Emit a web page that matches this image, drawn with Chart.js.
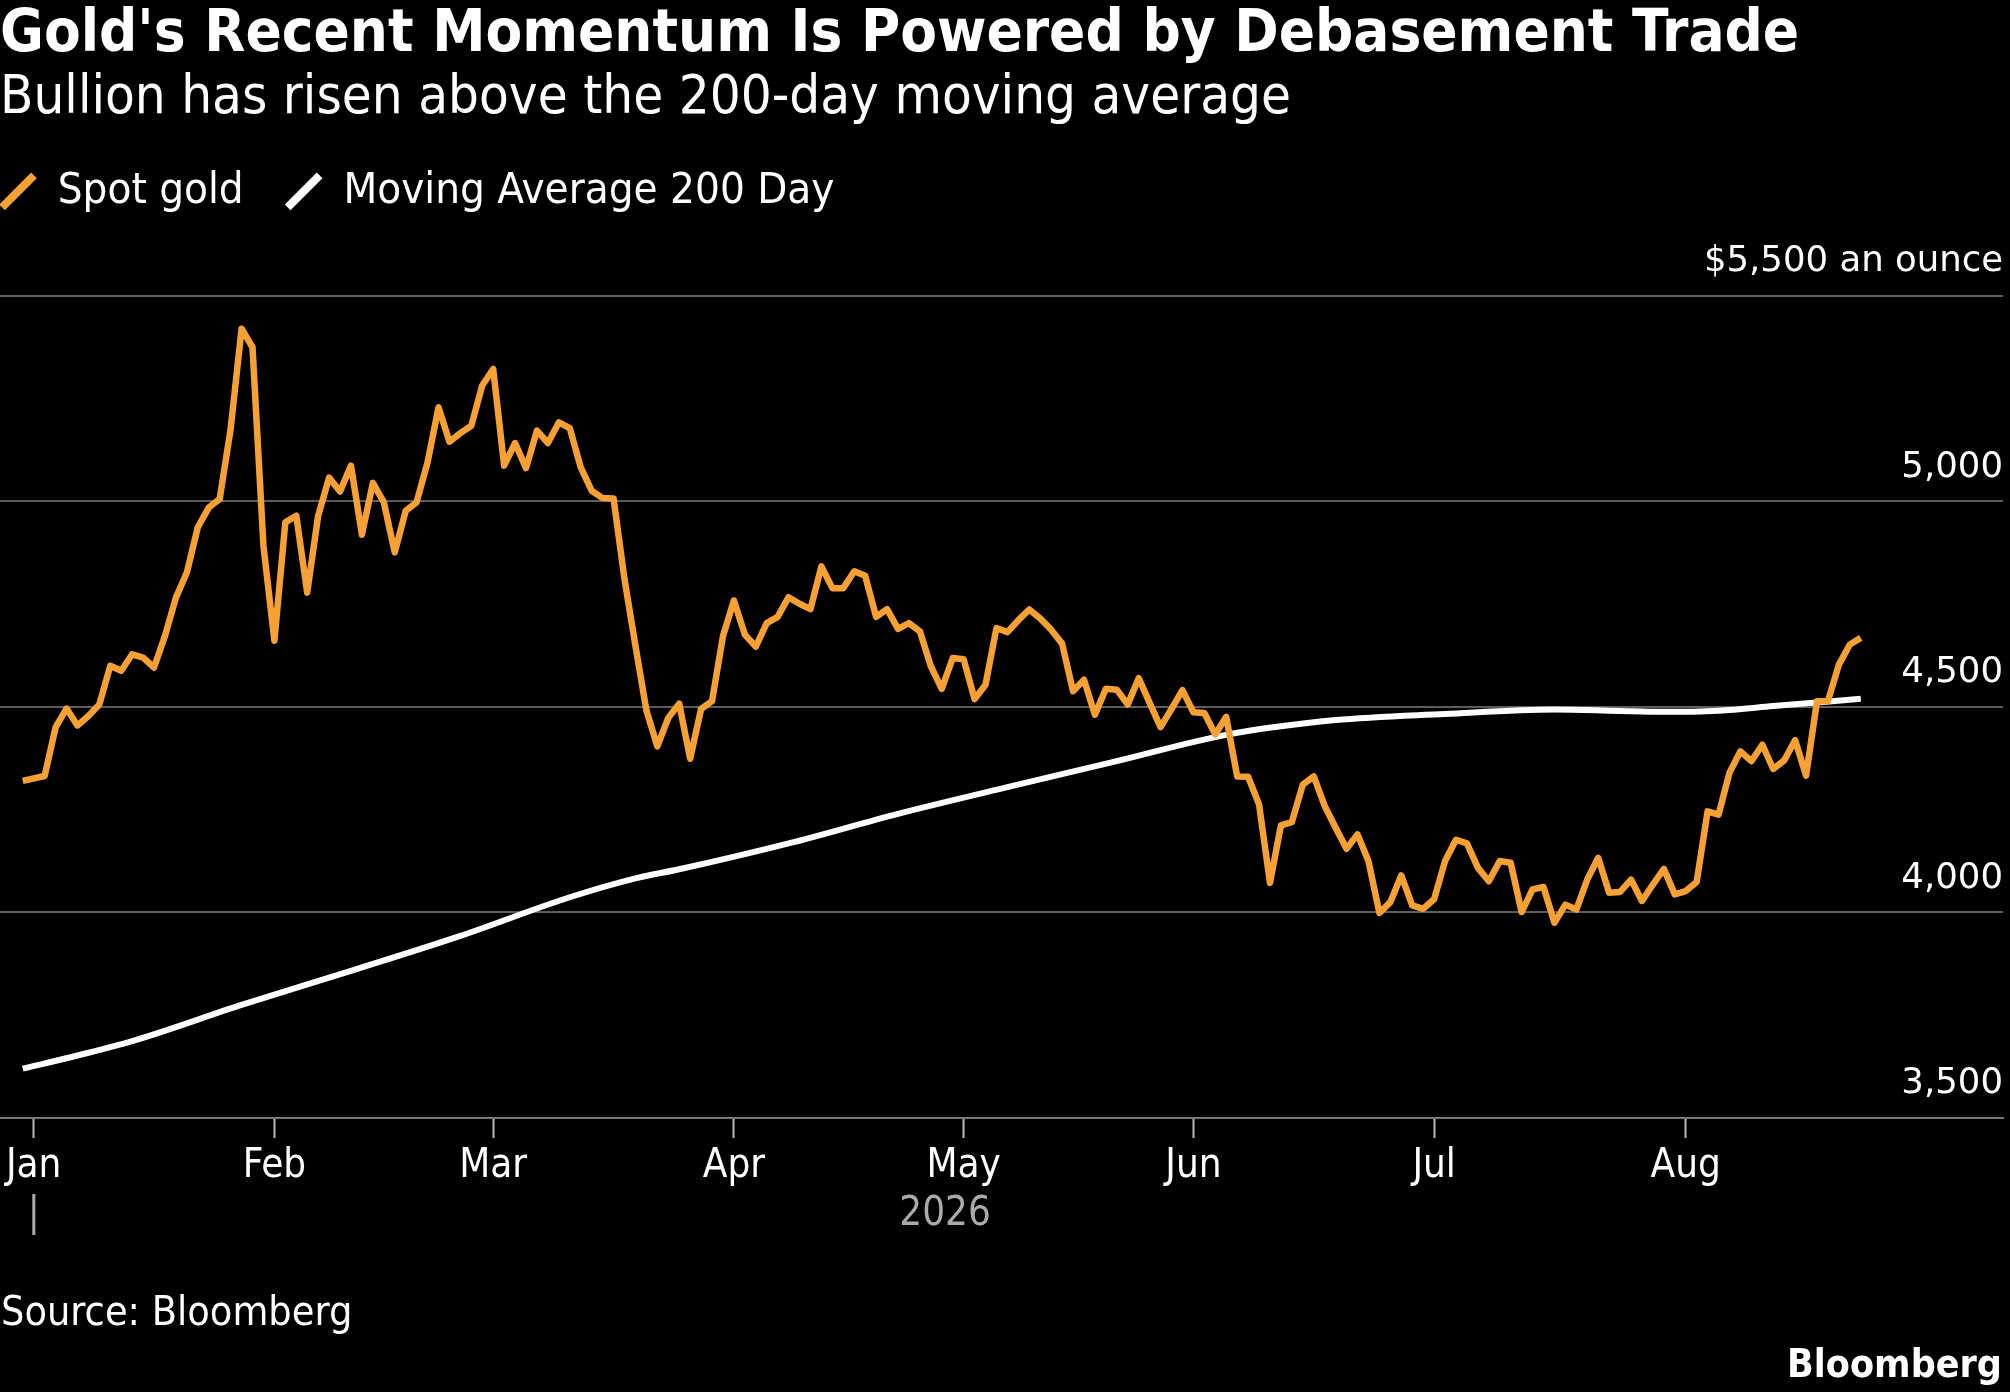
<!DOCTYPE html>
<html>
<head>
<meta charset="utf-8">
<title>Gold's Recent Momentum Is Powered by Debasement Trade</title>
<script src="https://cdn.jsdelivr.net/npm/chart.js@4.4.1/dist/chart.umd.min.js"></script>
<style>
    html, body { margin: 0; padding: 0; background: #000; }
    #wrap { position: relative; width: 2010px; height: 1392px; overflow: hidden; }
    #chart { position: absolute; left: 0; top: 0; }
    .note { position: absolute; color: #fff; line-height: 1; white-space: nowrap;
            font-family: 'DejaVu Sans Condensed', 'DejaVu Sans', sans-serif; }
    #source { left: 1px; top: 1291px; font-size: 41px; }
    #brand  { right: 8px; top: 1344px; font-size: 39px; font-weight: bold; }
</style>
</head>
<body>
<div id="wrap">
    <canvas id="chart" width="2010" height="1392"></canvas>
    <div id="source" class="note">Source: Bloomberg</div>
    <div id="brand" class="note">Bloomberg</div>
</div>
<script>
const COND = "'DejaVu Sans Condensed', 'DejaVu Sans', sans-serif";
const WIDE = "'DejaVu Sans', Verdana, sans-serif";

// x is a trading-day index: 0 = Dec 31 2025, one step per weekday.
const monthNames = ["Jan", "Feb", "Mar", "Apr", "May", "Jun", "Jul", "Aug"];
const monthPos   = [1, 23, 43, 65, 86, 107, 129, 152];
const yearLabels = ["|", "2026"];
const yearPos    = [1, 84.3];
const priceTicks = [3500, 4000, 4500, 5000, 5500];

// Spot gold, one value per trading day (null = no price, New Year's Day).
const goldSpot = [
    4320, null, 4332, 4450, 4496, 4455, 4478, 4506, 4600, 4588,
    4628, 4620, 4596, 4673, 4766, 4827, 4937, 4985, 5006, 5176,
    5420, 5375, 4892, 4661, 4949, 4965, 4778, 4965, 5058, 5024,
    5087, 4919, 5045, 4998, 4876, 4977, 4998, 5095, 5229, 5145,
    5166, 5184, 5282, 5322, 5087, 5142, 5081, 5172, 5142, 5192,
    5178, 5083, 5026, 5008, 5007, 4811, 4649, 4492, 4404, 4473,
    4508, 4374, 4495, 4514, 4672, 4759, 4676, 4647, 4704, 4719,
    4767, 4751, 4738, 4842, 4789, 4789, 4830, 4819, 4719, 4738,
    4690, 4704, 4684, 4599, 4544, 4619, 4616, 4519, 4554, 4692,
    4682, 4711, 4737, 4715, 4688, 4654, 4538, 4566, 4481, 4544,
    4542, 4506, 4570, 4510, 4451, 4495, 4541, 4487, 4485, 4433,
    4476, 4331, 4330, 4263, 4072, 4212, 4220, 4311, 4331, 4259,
    4206, 4155, 4190, 4125, 3999, 4025, 4090, 4017, 4009, 4032,
    4125, 4177, 4168, 4109, 4076, 4125, 4121, 4001, 4056, 4062,
    3975, 4019, 4007, 4080, 4133, 4048, 4050, 4080, 4028, 4068,
    4106, 4044, 4052, 4074, 4246, 4238, 4340, 4392, 4368, 4408,
    4349, 4370, 4419, 4333, 4514, 4514, 4603, 4652, 4668
];

// 200-day moving average, read at a handful of days along the curve.
const maIdx   = [0, 5, 10, 20, 30, 40, 50, 56, 60, 70, 80, 90, 100, 110, 120, 130, 140, 146, 150, 155, 160, 168];
const maValue = [3620, 3652, 3687, 3775, 3858, 3943, 4037, 4083, 4105, 4168, 4240, 4305, 4368, 4432, 4468, 4483, 4494, 4490, 4488, 4491, 4502, 4520];

const GOLD  = "#f7a034";
const WHITE = "#ffffff";

// Chart.js indents a start-aligned legend by its label padding; pull it back flush with the titles.
const legendFlush = {
    id: "legendFlush",
    afterLayout (chart) {
        chart.legend.left -= chart.options.plugins.legend.labels.padding;
    }
};

new Chart(document.getElementById("chart"), {
    type: "line",
    data: {
        datasets: [
            {
                label: "Spot gold",
                data: goldSpot.map((v, i) => ({ x: i, y: v })),
                borderColor: GOLD,
                borderWidth: 6.5,
                borderJoinStyle: "round",
                pointRadius: 0,
                spanGaps: true,
                tension: 0
            },
            {
                label: "Moving Average 200 Day",
                data: maIdx.map((d, i) => ({ x: d, y: maValue[i] })),
                borderColor: WHITE,
                borderWidth: 6,
                pointRadius: 0,
                cubicInterpolationMode: "monotone"
            }
        ]
    },
    options: {
        animation: false,
        responsive: false,
        devicePixelRatio: 1,
        layout: { padding: { top: 0, left: 0, right: 7, bottom: 144 } },
        plugins: {
            title: {
                display: true,
                text: "Gold's Recent Momentum Is Powered by Debasement Trade",
                align: "start",
                color: WHITE,
                font: { family: COND, size: 59.5, weight: "bold" },
                padding: { top: 0, bottom: 0 }
            },
            subtitle: {
                display: true,
                text: "Bullion has risen above the 200-day moving average",
                align: "start",
                color: WHITE,
                font: { family: COND, size: 54.2, lineHeight: 1.0 },
                padding: { top: 0, bottom: 2 }
            },
            legend: {
                display: true,
                align: "start",
                labels: {
                    color: WHITE,
                    font: { family: COND, size: 43.5 },
                    usePointStyle: true,
                    boxWidth: 36,
                    boxHeight: 32,
                    padding: 42,
                    generateLabels: (chart) => chart.data.datasets.map((ds, i) => ({
                        text: ds.label,
                        fontColor: WHITE,
                        strokeStyle: ds.borderColor,
                        fillStyle: ds.borderColor,
                        lineWidth: 8,
                        lineCap: "butt",
                        pointStyle: "line",
                        rotation: -45,
                        hidden: false,
                        datasetIndex: i
                    }))
                }
            },
            tooltip: { enabled: false }
        },
        scales: {
            x: {
                type: "linear",
                min: -2.08,
                max: 181,
                afterBuildTicks: (scale) => { scale.ticks = monthPos.map(v => ({ value: v })); },
                afterFit: (scale) => { scale.height = 70; },
                grid: { drawOnChartArea: false, tickLength: 20, tickColor: "#bbbbbb", tickWidth: 2 },
                border: { color: "#777777", width: 2 },
                ticks: {
                    color: WHITE,
                    font: { family: COND, size: 40 },
                    padding: 5,
                    maxRotation: 0,
                    autoSkip: false,
                    callback: (value, index) => monthNames[index]
                }
            },
            x2: {
                type: "linear",
                position: "bottom",
                weight: 1,
                min: -2.08,
                max: 181,
                afterBuildTicks: (scale) => { scale.ticks = yearPos.map(v => ({ value: v })); },
                afterFit: (scale) => { scale.height = 60; },
                grid: { display: false, drawTicks: false },
                border: { display: false },
                ticks: {
                    color: "#aaaaaa",
                    font: { family: COND, size: 40 },
                    padding: 3,
                    maxRotation: 0,
                    autoSkip: false,
                    callback: (value, index) => yearLabels[index]
                }
            },
            y: {
                position: "right",
                min: 3500,
                max: 5677,
                afterBuildTicks: (scale) => { scale.ticks = priceTicks.map(v => ({ value: v })); },
                grid: { color: "#5c5c5c", lineWidth: 2, drawTicks: false },
                border: { display: false },
                ticks: {
                    mirror: true,
                    padding: 0,
                    labelOffset: -34,
                    color: WHITE,
                    font: { family: WIDE, size: 35.5 },
                    callback: (value) => value === 5500 ? "$5,500 an ounce" : value.toLocaleString("en-US")
                }
            }
        }
    },
    plugins: [legendFlush]
});
</script>
</body>
</html>
